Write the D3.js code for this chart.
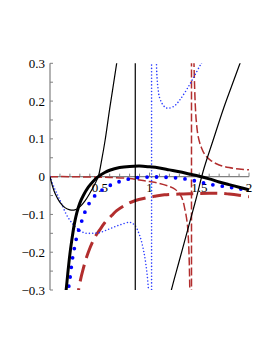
<!DOCTYPE html>
<html><head><meta charset="utf-8">
<script src="https://cdn.jsdelivr.net/npm/d3@7"></script>
<style>html,body{margin:0;padding:0;background:#fff;}svg{display:block;}</style>
</head><body>
<script>
// ---- data ----
const xTickLabels = [0.5, 1, 1.5, 2];
const yTickLabels = [0.3, 0.2, 0.1, 0, -0.1, -0.2, -0.3];

// thin black solid (pole near x = 0.857)
const thinBlackA = [[0,0],[0.025,-0.025],[0.05,-0.044],[0.1,-0.068],[0.15,-0.082],[0.2,-0.088],[0.25,-0.088],[0.3,-0.08],[0.35,-0.065],[0.4,-0.044],[0.45,-0.02],[0.485,0],[0.52,0.045],[0.553,0.095],[0.6,0.18],[0.67,0.3],[0.7,0.36]];
const thinBlackPole = 0.857;
const thinBlackB = [[1.17,-0.36],[1.22,-0.3],[1.3,-0.222],[1.4,-0.125],[1.474,-0.053],[1.54,0.015],[1.64,0.097],[1.75,0.185],[1.85,0.257],[1.91,0.3],[1.96,0.335]];

// thick black solid
const thickBlack = [[0.13,-0.38],[0.15,-0.33],[0.17,-0.28],[0.184,-0.243],[0.2,-0.205],[0.218,-0.17],[0.245,-0.125],[0.27,-0.095],[0.3,-0.07],[0.335,-0.05],[0.385,-0.028],[0.435,-0.012],[0.485,0],[0.55,0.011],[0.6,0.017],[0.7,0.024],[0.8,0.027],[0.9,0.028],[1.0,0.026],[1.1,0.023],[1.2,0.018],[1.3,0.013],[1.4,0.007],[1.5,0.001],[1.6,-0.006],[1.7,-0.014],[1.8,-0.021],[1.9,-0.028],[2.0,-0.035]];

// blue big dots
const blueDots = [[0.17,-0.34],[0.184,-0.3],[0.2,-0.27],[0.224,-0.22],[0.241,-0.195],[0.258,-0.172],[0.278,-0.15],[0.311,-0.124],[0.335,-0.105],[0.369,-0.083],[0.41,-0.064],[0.46,-0.048],[0.52,-0.036],[0.62,-0.021],[0.7,-0.013],[0.8,-0.006],[0.9,-0.002],[1.0,-0.001],[1.1,-0.001],[1.2,-0.002],[1.3,-0.004],[1.4,-0.008],[1.5,-0.014],[1.6,-0.02],[1.7,-0.024],[1.8,-0.028],[1.9,-0.032],[2.0,-0.037]];

// thin blue dotted (pole near x = 1.021)
const thinBlueA = [[0,0],[0.04,-0.028],[0.083,-0.053],[0.117,-0.072],[0.168,-0.102],[0.234,-0.127],[0.3,-0.143],[0.35,-0.149],[0.42,-0.15],[0.5,-0.148],[0.6,-0.138],[0.7,-0.128],[0.8,-0.121],[0.85,-0.128],[0.9,-0.155],[0.94,-0.195],[0.97,-0.245],[0.99,-0.3],[1.0,-0.34]];
const thinBluePole = 1.021;
const thinBlueB = [[1.065,0.34],[1.07,0.3],[1.075,0.265],[1.085,0.235],[1.1,0.21],[1.13,0.192],[1.16,0.183],[1.19,0.181],[1.25,0.187],[1.31,0.205],[1.4,0.242],[1.45,0.266],[1.52,0.3],[1.56,0.32]];

// thin red dashed (pole near x = 1.422)
const thinRedA = [[0,0],[0.2,0],[0.4,-0.001],[0.6,-0.002],[0.8,-0.005],[0.9,-0.009],[1.0,-0.013],[1.1,-0.018],[1.2,-0.026],[1.26,-0.034],[1.32,-0.053],[1.357,-0.088],[1.38,-0.125],[1.39,-0.16],[1.4,-0.23],[1.407,-0.34]];
const thinRedPole = 1.422;
const thinRedB = [[1.443,0.34],[1.447,0.3],[1.452,0.25],[1.46,0.19],[1.47,0.148],[1.49,0.105],[1.52,0.078],[1.56,0.057],[1.62,0.042],[1.7,0.031],[1.8,0.024],[1.9,0.02],[2.0,0.018]];

// thick red long-dashed
const thickRed = [[0.27,-0.34],[0.29,-0.295],[0.335,-0.243],[0.385,-0.2],[0.452,-0.16],[0.5,-0.141],[0.55,-0.122],[0.62,-0.103],[0.67,-0.09],[0.77,-0.073],[0.86,-0.063],[0.95,-0.057],[1.05,-0.052],[1.15,-0.048],[1.3,-0.046],[1.45,-0.045],[1.6,-0.044],[1.7,-0.044],[1.8,-0.046],[1.9,-0.049],[2.0,-0.053]];

// ---- drawing ----
const W = 273, H = 353;
const x = d3.scaleLinear().domain([0, 2]).range([50, 249]);
const y = d3.scaleLinear().domain([-0.3, 0.3]).range([290, 63.3]);

const svg = d3.select("body").append("svg").attr("width", W).attr("height", H);
svg.append("defs").append("clipPath").attr("id", "clip")
  .append("rect").attr("x", x(0)).attr("y", y(0.3))
  .attr("width", x(2) - x(0)).attr("height", y(-0.3) - y(0.3));

const axisColor = "#808080";
const font = "'Liberation Serif','DejaVu Serif',serif";

// x axis line + ticks (upward)
const gx = svg.append("g");
gx.append("line").attr("x1", x(0)).attr("x2", x(2)).attr("y1", y(0)).attr("y2", y(0))
  .attr("stroke", axisColor).attr("stroke-width", 1.2);
gx.selectAll("line.t").data(d3.range(1, 21).map(i => i / 10)).join("line").attr("class", "t")
  .attr("x1", d => x(d)).attr("x2", d => x(d))
  .attr("y1", y(0)).attr("y2", d => y(0) - (Math.abs(d * 2 - Math.round(d * 2)) < 1e-6 ? 4 : 3))
  .attr("stroke", axisColor).attr("stroke-width", 1);
gx.selectAll("text").data(xTickLabels).join("text")
  .attr("x", d => x(d)).attr("y", y(0) + 15.5)
  .attr("text-anchor", "middle").attr("font-family", font).attr("font-size", 13)
  .attr("fill", "#000").text(d => String(d));

// y axis line + ticks (to the right)
const gy = svg.append("g");
gy.append("line").attr("x1", x(0)).attr("x2", x(0)).attr("y1", y(0.3)).attr("y2", y(-0.3))
  .attr("stroke", axisColor).attr("stroke-width", 1.2);
gy.selectAll("line.t").data(d3.range(-6, 7).map(i => i * 0.05)).join("line").attr("class", "t")
  .attr("x1", x(0)).attr("x2", x(0) + 3)
  .attr("y1", d => y(d)).attr("y2", d => y(d))
  .attr("stroke", axisColor).attr("stroke-width", 1);
gy.selectAll("text").data(yTickLabels).join("text")
  .attr("x", x(0) - 5).attr("y", d => y(d) + 4.6)
  .attr("text-anchor", "end").attr("font-family", font).attr("font-size", 13)
  .attr("fill", "#000").text(d => d === 0 ? "0" : (d < 0 ? "\u2212" + String(-d) : String(d)));

// curves
const line = d3.line().x(d => x(d[0])).y(d => y(d[1])).curve(d3.curveCatmullRom.alpha(0.5));
const plot = svg.append("g").attr("clip-path", "url(#clip)");

function curve(data, style) {
  const p = plot.append("path").datum(data).attr("d", line).attr("fill", "none");
  Object.entries(style).forEach(([k, v]) => p.attr(k, v));
}
function pole(px, style) {
  const p = plot.append("line").attr("x1", x(px)).attr("x2", x(px))
    .attr("y1", y(0.4)).attr("y2", y(-0.4)).attr("fill", "none");
  Object.entries(style).forEach(([k, v]) => p.attr(k, v));
}

const red = "#b22e2e";
const thinRedStyle = {"stroke": red, "stroke-width": 1.5, "stroke-dasharray": "8,3"};
curve(thinRedA, thinRedStyle);
pole(thinRedPole, thinRedStyle);
curve(thinRedB, thinRedStyle);

curve(thickRed, {"stroke": red, "stroke-width": 3, "stroke-dasharray": "17,7"});

const thinBlueStyle = {"stroke": "#2b3cff", "stroke-width": 1.6, "stroke-dasharray": "0,3.3", "stroke-linecap": "round"};
curve(thinBlueA, thinBlueStyle);
pole(thinBluePole, thinBlueStyle);
curve(thinBlueB, thinBlueStyle);

curve(blueDots, {"stroke": "#0000ff", "stroke-width": 3.8, "stroke-dasharray": "0,9.5", "stroke-linecap": "round"});

const thinBlackStyle = {"stroke": "#000", "stroke-width": 1.2};
curve(thinBlackA, thinBlackStyle);
pole(thinBlackPole, thinBlackStyle);
curve(thinBlackB, thinBlackStyle);

curve(thickBlack, {"stroke": "#000", "stroke-width": 3});
</script>
</body></html>
